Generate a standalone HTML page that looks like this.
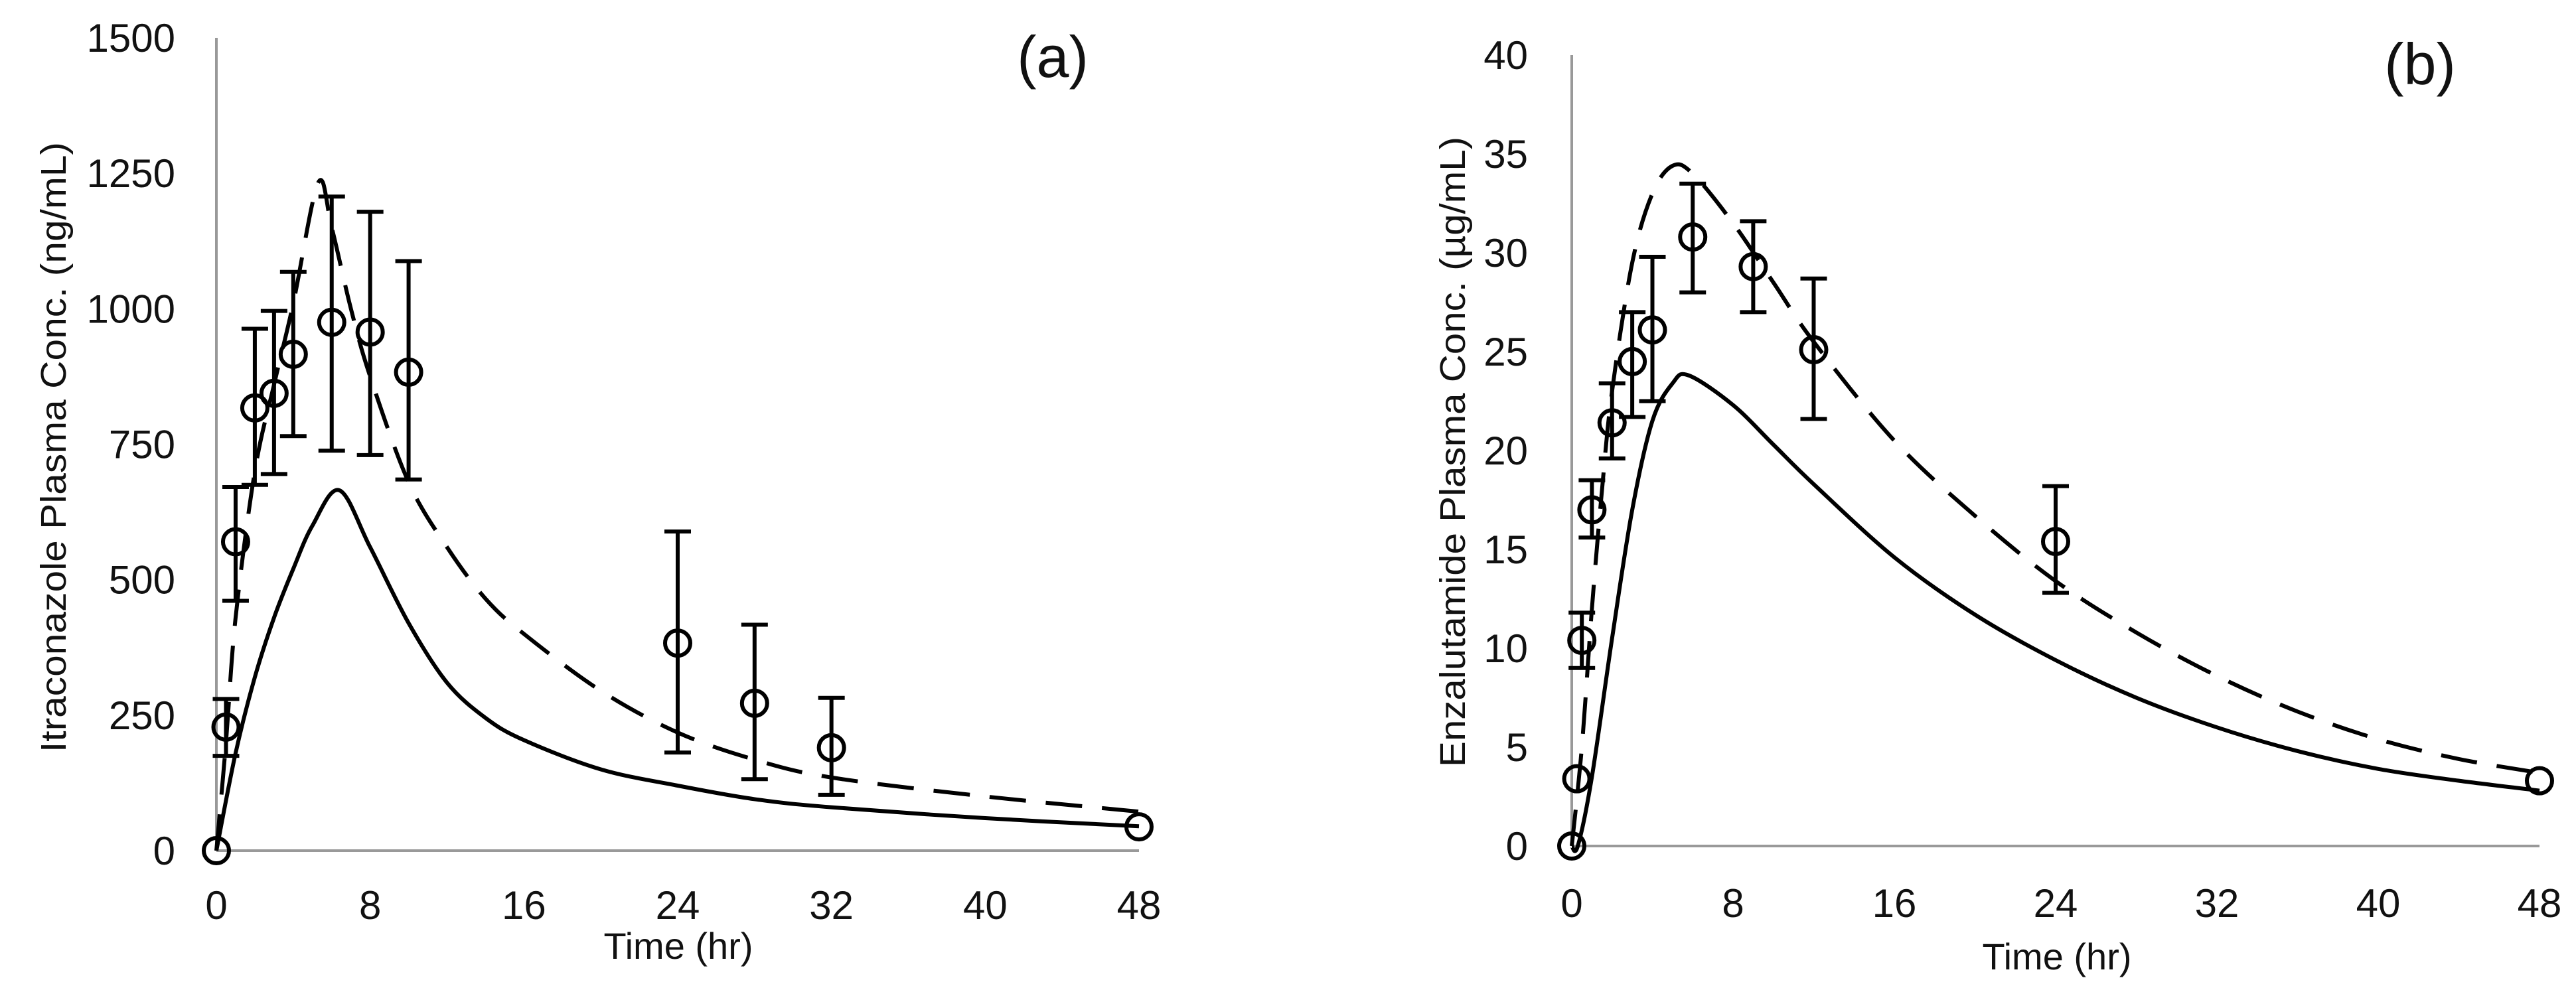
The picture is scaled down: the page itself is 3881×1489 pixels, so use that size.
<!DOCTYPE html>
<html><head><meta charset="utf-8"><style>
html,body{margin:0;padding:0;background:#fff;}
svg{display:block;}
text{font-family:"Liberation Sans",sans-serif;fill:#111;}
</style></head><body>
<svg id="fig" width="3881" height="1489" viewBox="0 0 3881 1489" xmlns="http://www.w3.org/2000/svg"></svg>
<script>
// ---- Panel (a) data ----
const aXTicks = [0, 8, 16, 24, 32, 40, 48];
const aYTicks = [0, 250, 500, 750, 1000, 1250, 1500];
const aObsT = [0, 0.5, 1, 2, 3, 4, 6, 8, 10, 24, 28, 32, 48];
const aObsY = [0, 228, 570, 817, 844, 916, 975, 957, 883, 383, 272, 190, 44];
const aObsHi = [null, 280, 671, 963, 996, 1068, 1207, 1179, 1088, 589, 417, 282, null];
const aObsLo = [null, 175, 461, 675, 695, 765, 738, 730, 685, 181, 132, 103, null];
const aDashT = [0, 0.5, 1, 2, 3, 4, 5.3, 6, 7, 8, 10, 12, 14, 16, 20, 24, 28, 32, 40, 48];
const aDashY = [0, 200, 430, 700, 860, 1010, 1233, 1150, 1000, 875, 680, 560, 465, 400, 295, 218, 168, 135, 100, 72];
const aSolT = [0, 1, 2, 3, 4, 5, 6.4, 8, 10, 12, 14, 16, 20, 24, 28, 32, 40, 48];
const aSolY = [0, 180, 320, 430, 520, 600, 665, 560, 420, 310, 245, 204, 150, 120, 95, 80, 60, 45];
// ---- Panel (b) data ----
const bXTicks = [0, 8, 16, 24, 32, 40, 48];
const bYTicks = [0, 5, 10, 15, 20, 25, 30, 35, 40];
const bObsT = [0, 0.25, 0.5, 1, 2, 3, 4, 6, 9, 12, 24, 48];
const bObsY = [0, 3.4, 10.4, 17.0, 21.4, 24.5, 26.1, 30.8, 29.3, 25.1, 15.4, 3.3];
const bObsHi = [null, null, 11.8, 18.5, 23.4, 27.0, 29.8, 33.5, 31.6, 28.7, 18.2, null];
const bObsLo = [null, null, 9.0, 15.6, 19.6, 21.7, 22.5, 28.0, 27.0, 21.6, 12.8, null];
const bDashT = [0, 0.5, 1, 1.5, 2, 3, 4, 5, 6, 8, 10, 12, 16, 20, 24, 28, 32, 36, 40, 44, 48];
const bDashY = [0, 5, 12, 18, 23, 29.5, 33, 34.4, 34, 31.5, 28.5, 25.5, 20.5, 16.7, 13.4, 10.8, 8.6, 6.8, 5.4, 4.4, 3.7];
const bSolT = [0, 0.3, 1, 2, 3, 4, 5, 5.8, 8, 10, 12, 16, 20, 24, 28, 32, 36, 40, 44, 48];
const bSolY = [0, 0, 3.5, 10.5, 17, 21.5, 23.4, 23.8, 22.3, 20.3, 18.3, 14.6, 11.7, 9.4, 7.5, 6.0, 4.8, 3.9, 3.3, 2.8];

const NS = "http://www.w3.org/2000/svg";
const svg = document.getElementById('fig');
function mk(tag, attrs, parent) {
  const e = document.createElementNS(NS, tag);
  for (const k in attrs) e.setAttribute(k, attrs[k]);
  (parent || svg).appendChild(e);
  return e;
}
function smoothPath(pts) {
  let d = "M" + pts[0][0] + "," + pts[0][1];
  for (let i = 0; i < pts.length - 1; i++) {
    const p0 = pts[i - 1] || pts[i], p1 = pts[i], p2 = pts[i + 1], p3 = pts[i + 2] || p2;
    const c1 = [p1[0] + (p2[0] - p0[0]) / 6, p1[1] + (p2[1] - p0[1]) / 6];
    const c2 = [p2[0] - (p3[0] - p1[0]) / 6, p2[1] - (p3[1] - p1[1]) / 6];
    d += " C" + c1[0] + "," + c1[1] + " " + c2[0] + "," + c2[1] + " " + p2[0] + "," + p2[1];
  }
  return d;
}
function panel(cfg) {
  const g = mk('g', {});
  
  
  const sx = t => cfg.x0 + (t - 0) / 48 * (cfg.x1 - cfg.x0);
  const sy = v => cfg.y0 - v / cfg.ymax * (cfg.y0 - cfg.y1);
  const ya = mk('line', {x1: cfg.x0, y1: cfg.y0, x2: cfg.x0, y2: cfg.y1, stroke: '#999', 'stroke-width': 4}, g);
  
  
  const xa = mk('line', {x1: cfg.x0, y1: cfg.y0, x2: cfg.x1, y2: cfg.y0, stroke: '#999', 'stroke-width': 4}, g);
  
  
  cfg.yTicks.forEach(v => {
    const t = mk('text', {x: cfg.yLabX, y: sy(v) + 21, 'text-anchor': 'end', 'font-size': 60}, g);
    t.textContent = v;
    
    
  });
  cfg.xTicks.forEach(v => {
    const t = mk('text', {x: sx(v), y: cfg.xLabY + 21, 'text-anchor': 'middle', 'font-size': 60}, g);
    t.textContent = v;
    
    
  });
  const xt = mk('text', {x: cfg.xTitleX, y: cfg.xTitleY + 20, 'text-anchor': 'middle', 'font-size': 56}, g);
  xt.textContent = 'Time (hr)';
  
  
  const yt = mk('text', {x: 0, y: 0, 'text-anchor': 'middle', 'font-size': 54, textLength: cfg.yTitleLen, lengthAdjust: 'spacingAndGlyphs',
    transform: 'translate(' + (cfg.yTitleX + 19) + ',' + cfg.yTitleY + ') rotate(-90)'}, g);
  yt.textContent = cfg.yTitle;
  
  
  const pl = mk('text', {x: cfg.plX, y: cfg.plY + 30, 'text-anchor': 'middle', 'font-size': 88}, g);
  pl.textContent = cfg.panelLabel;
  
  
  const sol = mk('path', {d: smoothPath(cfg.solT.map((t, i) => [sx(t), sy(cfg.solY[i])])), fill: 'none', stroke: '#000', 'stroke-width': 6, 'stroke-linejoin': 'round'}, g);
  
  
  const das = mk('path', {d: smoothPath(cfg.dashT.map((t, i) => [sx(t), sy(cfg.dashY[i])])), fill: 'none', stroke: '#000', 'stroke-width': 6, 'stroke-dasharray': '55 30'}, g);
  
  
  cfg.obsT.forEach((t, i) => {
    const x = sx(t);
    if (cfg.obsHi[i] !== null) {
      const eb = mk('path', {d: 'M' + x + ',' + sy(cfg.obsHi[i]) + 'V' + sy(cfg.obsLo[i]) +
        'M' + (x - 20) + ',' + sy(cfg.obsHi[i]) + 'H' + (x + 20) + 'M' + (x - 20) + ',' + sy(cfg.obsLo[i]) + 'H' + (x + 20),
        stroke: '#000', 'stroke-width': 6, fill: 'none'}, g);
      
      
    }
    const c = mk('circle', {cx: x, cy: sy(cfg.obsY[i]), r: 19, fill: 'none', stroke: '#000', 'stroke-width': 6}, g);
    
    
  });
}
panel({name: 'panel-a-itraconazole', x0: 326, x1: 1716, y0: 1282, y1: 57, ymax: 1500,
  xTicks: aXTicks, yTicks: aYTicks, obsT: aObsT, obsY: aObsY, obsHi: aObsHi, obsLo: aObsLo,
  dashT: aDashT, dashY: aDashY, solT: aSolT, solY: aSolY,
  yLabX: 264, xLabY: 1364, xTitleX: 1022, xTitleY: 1425,
  yTitle: 'Itraconazole Plasma Conc. (ng/mL)', yTitleX: 80, yTitleY: 674, yTitleLen: 920,
  panelLabel: '(a)', plX: 1586, plY: 86});
panel({name: 'panel-b-enzalutamide', x0: 2368, x1: 3826, y0: 1275, y1: 83, ymax: 40,
  xTicks: bXTicks, yTicks: bYTicks, obsT: bObsT, obsY: bObsY, obsHi: bObsHi, obsLo: bObsLo,
  dashT: bDashT, dashY: bDashY, solT: bSolT, solY: bSolY,
  yLabX: 2302, xLabY: 1361, xTitleX: 3099, xTitleY: 1441,
  yTitle: 'Enzalutamide Plasma Conc. (µg/mL)', yTitleX: 2188, yTitleY: 681, yTitleLen: 950,
  panelLabel: '(b)', plX: 3646, plY: 97});
</script>
</body></html>
